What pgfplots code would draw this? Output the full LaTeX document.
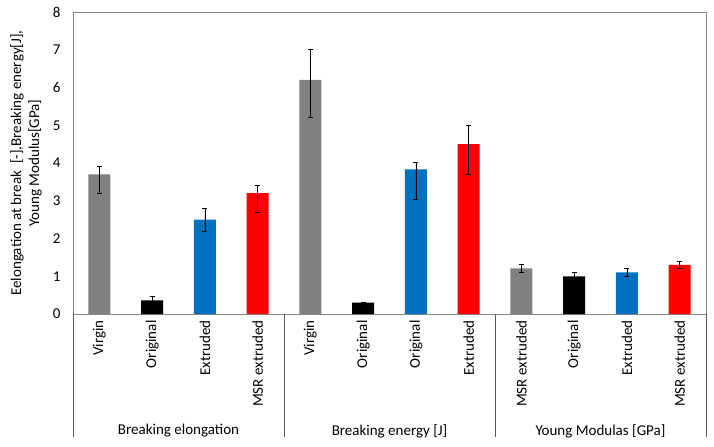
\documentclass[border=0pt]{standalone}
\usepackage{fontspec}
\setmainfont{Carlito}
\usepackage{pgfplots}
\pgfplotsset{compat=1.18}

\definecolor{cgray}{HTML}{808080}
\definecolor{cblue}{HTML}{0070C0}
\definecolor{cred}{HTML}{FF0000}
\definecolor{axgray}{HTML}{868686}

\pgfplotsset{
  errs/.style={
    error bars/y dir=both,
    error bars/y explicit,
    error bars/error bar style={black, line width=0.7pt},
    error bars/error mark options={rotate=90, mark size=2.5bp, black, line width=0.7pt},
  },
}

\begin{document}
\begin{tikzpicture}
\useasboundingbox (-73bp,-133bp) rectangle (641bp,314bp);
\begin{axis}[
  at={(0,0)}, anchor=south west,
  scale only axis,
  width=633bp, height=302bp,
  font=\fontsize{15bp}{18bp}\selectfont,
  ybar, bar width=22bp, bar shift=0pt,
  xmin=0.5, xmax=12.5,
  ymin=0, ymax=8,
  ytick={0,1,...,8},
  xtick={1,...,12},
  xticklabels={Virgin,Original,Extruded,MSR extruded,Virgin,Original,Original,Extruded,MSR extruded,Original,Extruded,MSR extruded},
  xticklabel style={yshift=-3bp, rotate=90, anchor=east},
  /pgf/number format/assume math mode=true,
  yticklabel style={xshift=-9bp},
  major tick length=0pt,
  axis line style={axgray, line width=0.7pt},
  ylabel={Eelongation at break\ \ [-],Breaking energy[J],\\Young Modulus[GPa]},
  ylabel style={align=center, at={(axis description cs:0,0.5)}, anchor=center, yshift=47bp},
  after end axis/.code={
    \foreach \s in {0.5,4.5,8.5,12.5}
      \draw[black!65, line width=0.6pt] (axis cs:\s,0) -- ++(0,-123bp);
    \node[yshift=-117bp] at (axis cs:2.5,0) {Breaking elongation};
    \node[yshift=-117bp] at (axis cs:6.5,0) {Breaking energy [J]};
    \node[yshift=-117bp] at (axis cs:10.5,0) {Young Modulas [GPa]};
  },
]
\addplot[fill=cgray, draw=none, errs] coordinates {
  (1,3.70) += (0,0.20) -= (0,0.50)
  (5,6.20) += (0,0.80) -= (0,1.00)
  (9,1.21) += (0,0.10) -= (0,0.10)
};
\addplot[fill=black, draw=none, errs] coordinates {
  (2,0.36) += (0,0.10) -= (0,0.06)
  (6,0.30) += (0,0.02) -= (0,0.02)
  (10,1.00) += (0,0.10) -= (0,0.10)
};
\addplot[fill=cblue, draw=none, errs] coordinates {
  (3,2.50) += (0,0.30) -= (0,0.30)
  (7,3.83) += (0,0.20) -= (0,0.80)
  (11,1.10) += (0,0.10) -= (0,0.10)
};
\addplot[fill=cred, draw=none, errs] coordinates {
  (4,3.20) += (0,0.20) -= (0,0.50)
  (8,4.50) += (0,0.50) -= (0,0.80)
  (12,1.30) += (0,0.10) -= (0,0.10)
};
\end{axis}
\end{tikzpicture}
\end{document}
